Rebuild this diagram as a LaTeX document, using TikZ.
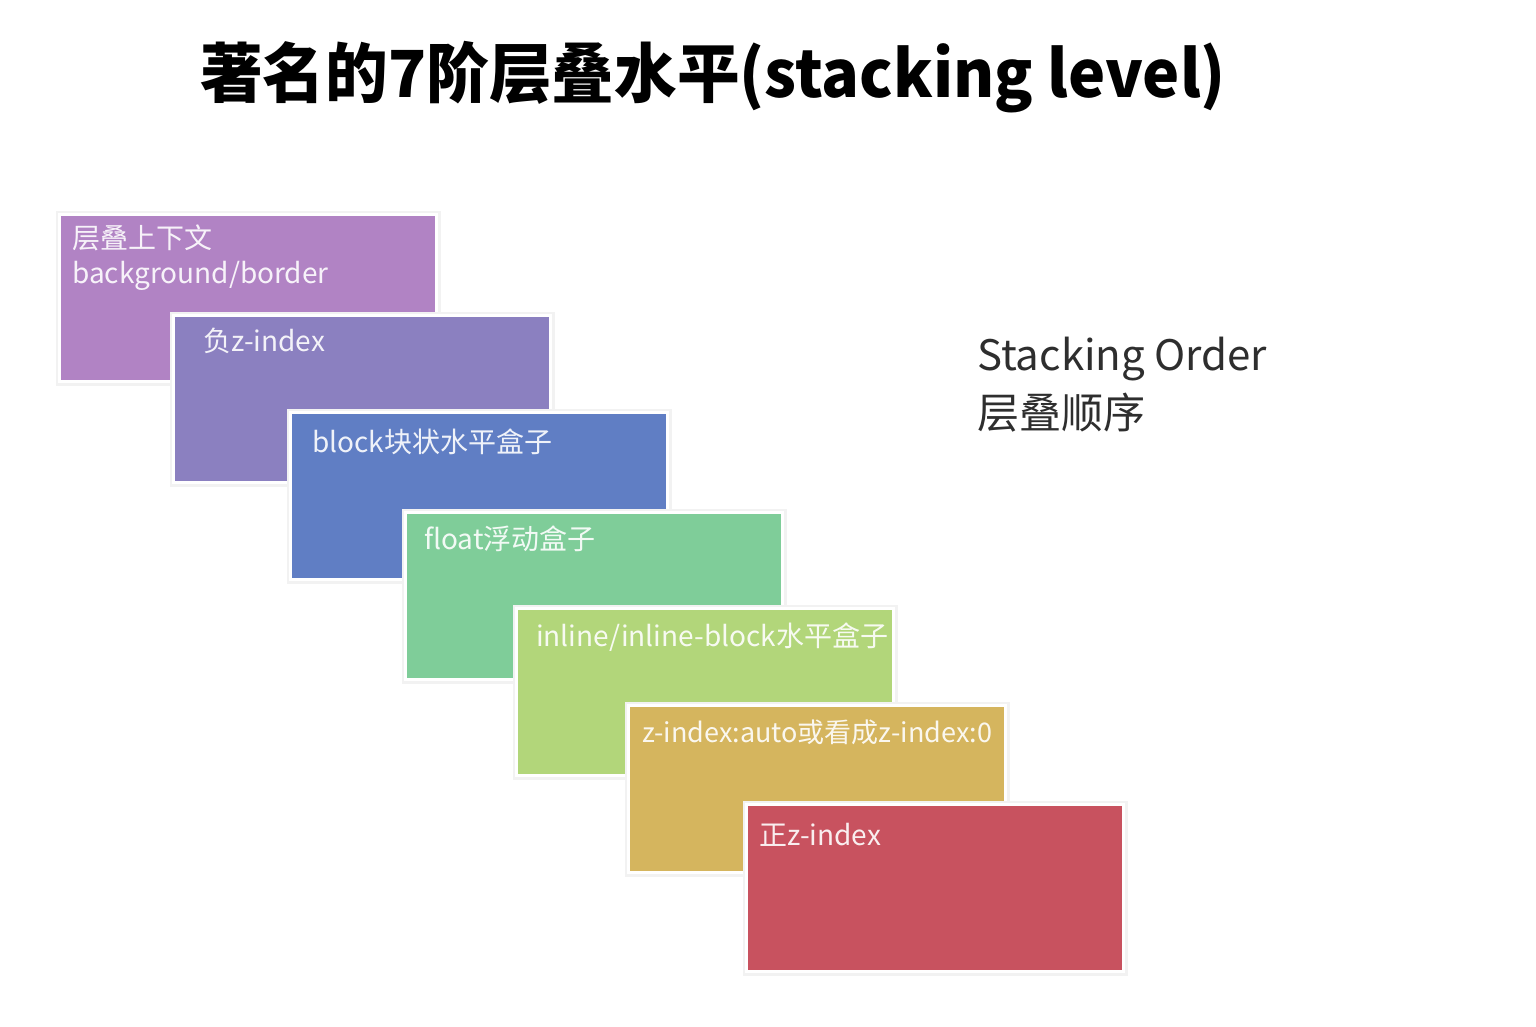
\documentclass[tikz,border=0pt]{standalone}
\usepackage{fontspec}
\setmainfont{Noto Sans CJK SC}
\usetikzlibrary{calc}
\definecolor{cA}{HTML}{B183C4}
\definecolor{cB}{HTML}{8B80C0}
\definecolor{cC}{HTML}{607EC4}
\definecolor{cD}{HTML}{7FCD99}
\definecolor{cE}{HTML}{B2D67A}
\definecolor{cF}{HTML}{D5B55E}
\definecolor{cG}{HTML}{C8525F}
\definecolor{ink}{HTML}{2E2E2E}
\tikzset{
  layer/.style={rectangle, anchor=north west, minimum width=377pt, minimum height=167pt,
    inner sep=0pt, draw=white, line width=3pt,
    preaction={draw=black!5, line width=8pt}},
  lbl/.style={anchor=base west, inner sep=0pt, text=white, text opacity=0.9, font=\fontsize{28}{35}\selectfont},
  side/.style={anchor=base west, inner sep=0pt, text=ink, font=\fontsize{42}{50}\selectfont},
}
\begin{document}
\begin{tikzpicture}[x=1pt,y=-1pt]
\useasboundingbox (0,0) rectangle (1536,1026);
\fill[white] (0,0) rectangle (1536,1026);
% title
\node[anchor=base west, inner sep=0pt, text=black, xscale=0.995, yscale=1.03, font=\fontsize{63}{70}\selectfont\bfseries] (title) at (200,97) {著名的7阶层叠水平(stacking level)};
% layers
\node[layer, fill=cA] (b1) at (58,213) {};
\node[lbl] (t1a) at ($(b1.north west)+(14,35)$) {层叠上下文};
\node[lbl] (t1b) at ($(b1.north west)+(14,70)$) {background/border};
\node[layer, fill=cB] (b2) at (172,314) {};
\node[lbl] (t2) at ($(b2.north west)+(31,37)$) {负z-index};
\node[layer, fill=cC] (b3) at (289,411) {};
\node[lbl] (t3) at ($(b3.north west)+(23,41)$) {block块状水平盒子};
\node[layer, fill=cD] (b4) at (404,511) {};
\node[lbl] (t4) at ($(b4.north west)+(20,38)$) {float浮动盒子};
\node[layer, fill=cE] (b5) at (515,607) {};
\node[lbl] (t5) at ($(b5.north west)+(21,39)$) {inline/inline-block水平盒子};
\node[layer, fill=cF] (b6) at (627,704) {};
\node[lbl, font=\fontsize{27}{35}\selectfont] (t6) at ($(b6.north west)+(15,38)$) {z-index:auto或看成z-index:0};
\node[layer, fill=cG] (b7) at (745,803) {};
\node[lbl] (t7) at ($(b7.north west)+(14,42)$) {正z-index};
% side text
\node[side] (s1) at (977,370) {Stacking Order};
\node[side] (s2) at (977,428) {层叠顺序};
\end{tikzpicture}
\end{document}
